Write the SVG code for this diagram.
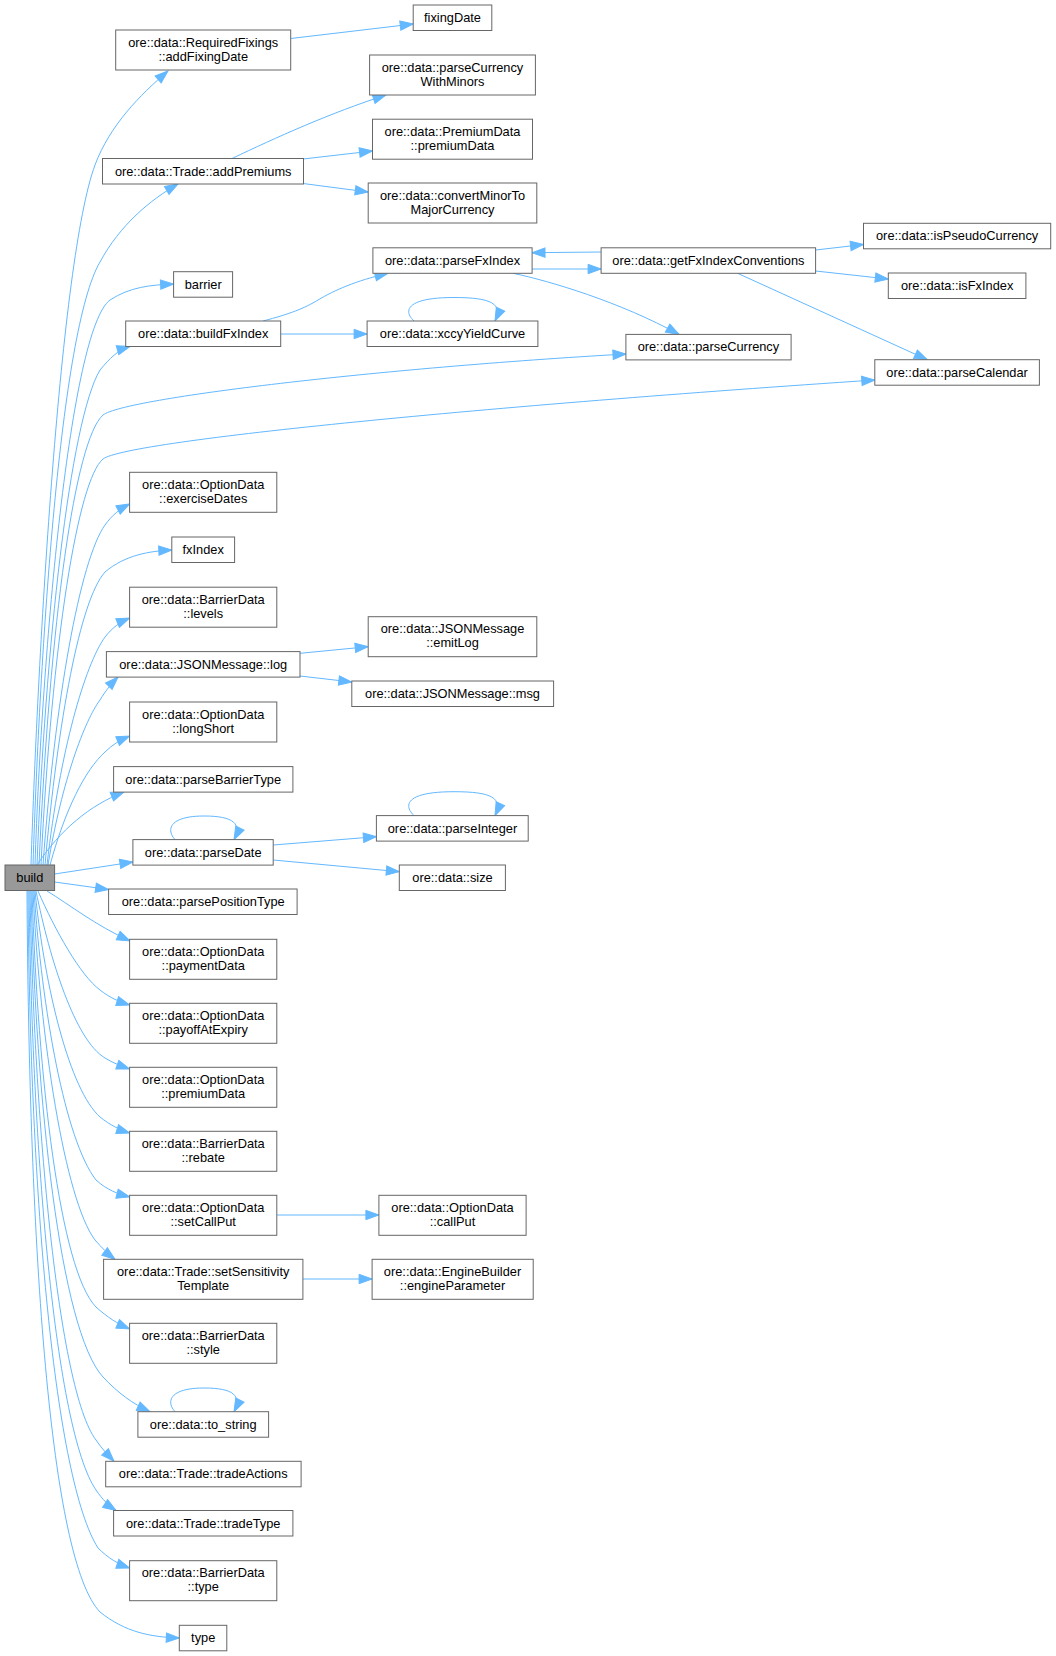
<svg xmlns="http://www.w3.org/2000/svg" width="1056" height="1656" viewBox="0 0 1056 1656">
<style>
.n rect{fill:#ffffff;stroke:#666666;stroke-width:1}
.n text{font-family:"Liberation Sans",Arial,sans-serif;font-size:12.8px;fill:#000000;text-anchor:middle}
#build rect{fill:#999999;stroke:#666666}
.e path{fill:none;stroke:#63b8ff;stroke-width:1;marker-end:url(#ah)}
</style>
<defs>
<marker id="ah" markerWidth="14" markerHeight="10" refX="13" refY="4.67" orient="auto" markerUnits="userSpaceOnUse" overflow="visible">
<path d="M0,0 L13,4.67 L0,9.33 z" fill="#63b8ff" stroke="#63b8ff" stroke-width="1"/>
</marker>
</defs>
<rect width="1056" height="1656" fill="#ffffff"/>
<g id="edges" class="e">
<path d="M31,865 C38,650 60,260 95,165 C110,125 140,95 168,71"/>
<path d="M33,865 C40,650 60,330 100,262 C120,225 150,200 178,184"/>
<path d="M35,865 C42,650 70,330 110,300 C130,287 150,285 173.6,284"/>
<path d="M37,865 C45,650 70,420 100,370 C110,358 118,350 130,346.5"/>
<path d="M39,865 C50,620 75,440 103,415 C125,398 380,368 626,354"/>
<path d="M41,865 C52,640 78,480 103,459 C128,440 500,405 874.8,380"/>
<path d="M43,865 C55,700 80,560 105,525 C112,515 120,509 129.6,504"/>
<path d="M45,865 C58,720 80,600 105,572 C125,555 150,551 171.8,550"/>
<path d="M47,865 C60,750 85,665 105,637 C112,628 120,622 129.6,618"/>
<path d="M48,865 C62,780 85,720 100,700 C106,690 112,683 118,677"/>
<path d="M50,865 C65,810 85,770 105,752 C112,745 120,740 129.6,736"/>
<path d="M37,865 C60,830 90,805 124,792"/>
<path d="M54.6,874 L132.9,862"/>
<path d="M54.6,882 L108.6,889.5"/>
<path d="M47,891 C70,905 95,925 130,941"/>
<path d="M38,891 C55,930 80,975 100,990 C110,998 120,1002 129.6,1005"/>
<path d="M36,891 C50,960 75,1040 105,1058 C113,1063 121,1066 129.6,1069"/>
<path d="M35,891 C45,990 70,1090 100,1117 C110,1125 120,1130 129.6,1133"/>
<path d="M34,891 C42,1010 65,1140 96,1180 C107,1190 118,1194 129.6,1197"/>
<path d="M33,891 C40,1040 65,1200 95,1240 C102,1248 108,1254 115,1259.3"/>
<path d="M32,891 C38,1080 60,1270 96,1307 C107,1317 118,1324 129.6,1329"/>
<path d="M31,891 C36,1100 60,1330 103,1377 C118,1393 133,1404 150,1411.7"/>
<path d="M30,891 C34,1120 58,1390 96,1440 C102,1449 108,1455 114,1461.3"/>
<path d="M29,891 C32,1150 55,1430 96,1490 C102,1499 109,1506 116,1510.5"/>
<path d="M28,891 C30,1200 55,1480 98,1548 C108,1558 118,1564 129.6,1568"/>
<path d="M27,891 C29,1250 50,1560 100,1612 C125,1632 150,1637 179.3,1638"/>
<path d="M290.7,38.5 L413.2,24"/>
<path d="M232,158.5 C275,138 330,113 386,95"/>
<path d="M303,159 L372.5,151"/>
<path d="M303,183.5 L368.2,192"/>
<path d="M263,321 C290,314 305,308 318,300 C335,290 355,281 388,273.3"/>
<path d="M280.7,334 L367.1,334"/>
<path d="M414,321 C403,311 406,297.5 454,297.5 C492,297.5 503,304 495,321"/>
<path d="M532,269 L601.1,269"/>
<path d="M601.1,252 L532,252.7"/>
<path d="M513,273.3 C550,281 620,302 679,334.4"/>
<path d="M815.6,250 L863.5,244.5"/>
<path d="M815.6,271 L888.3,279"/>
<path d="M737.6,273.3 L927.3,359.7"/>
<path d="M300,653.3 L368.2,646.7"/>
<path d="M300,676 L351.8,682"/>
<path d="M175,839.6 C166,830 169,816 204,816 C234,816 242,824 234,839.6"/>
<path d="M273.2,845 L376.4,836.7"/>
<path d="M273.2,860 L399.3,871.7"/>
<path d="M414,815.6 C403,805 406,791.7 454,791.7 C492,791.7 503,798 495,815.6"/>
<path d="M276.8,1215 L378.9,1215"/>
<path d="M302.9,1279 L372.1,1279"/>
<path d="M175,1411.7 C166,1402 169,1388 204,1388 C234,1388 242,1396 234,1411.7"/>
</g>
<g id="build" class="n"><rect x="5" y="865" width="49.6" height="25.5"/><text x="29.8" y="882">build</text></g>
<g id="addFixingDate" class="n"><rect x="115.7" y="30" width="175" height="40"/><text x="203.2" y="46.5">ore::data::RequiredFixings</text><text x="203.2" y="60.5">::addFixingDate</text></g>
<g id="addPremiums" class="n"><rect x="102.5" y="158.5" width="201" height="25.5"/><text x="203.2" y="175.5">ore::data::Trade::addPremiums</text></g>
<g id="barrier" class="n"><rect x="173.6" y="271.7" width="59" height="25.5"/><text x="203.2" y="288.7">barrier</text></g>
<g id="buildFxIndex" class="n"><rect x="125.7" y="321" width="155" height="25.5"/><text x="203.2" y="338">ore::data::buildFxIndex</text></g>
<g id="exerciseDates" class="n"><rect x="129.6" y="472.3" width="147.2" height="40"/><text x="203.2" y="488.8">ore::data::OptionData</text><text x="203.2" y="502.8">::exerciseDates</text></g>
<g id="fxIndex" class="n"><rect x="171.8" y="537" width="62.8" height="25.5"/><text x="203.2" y="554">fxIndex</text></g>
<g id="levels" class="n"><rect x="129.6" y="587.2" width="147.2" height="40"/><text x="203.2" y="603.7">ore::data::BarrierData</text><text x="203.2" y="617.7">::levels</text></g>
<g id="log" class="n"><rect x="106.4" y="651.6" width="193.6" height="25.5"/><text x="203.2" y="668.6">ore::data::JSONMessage::log</text></g>
<g id="longShort" class="n"><rect x="129.6" y="702" width="147.2" height="40"/><text x="203.2" y="718.5">ore::data::OptionData</text><text x="203.2" y="732.5">::longShort</text></g>
<g id="parseBarrierType" class="n"><rect x="113.6" y="766.6" width="179.3" height="25.5"/><text x="203.2" y="783.6">ore::data::parseBarrierType</text></g>
<g id="parseDate" class="n"><rect x="132.9" y="839.6" width="140.3" height="25.5"/><text x="203.2" y="856.6">ore::data::parseDate</text></g>
<g id="parsePositionType" class="n"><rect x="108.6" y="889" width="188.5" height="25.5"/><text x="203.2" y="906">ore::data::parsePositionType</text></g>
<g id="paymentData" class="n"><rect x="129.6" y="939.3" width="147.2" height="40"/><text x="203.2" y="955.8">ore::data::OptionData</text><text x="203.2" y="969.8">::paymentData</text></g>
<g id="payoffAtExpiry" class="n"><rect x="129.6" y="1003.3" width="147.2" height="40"/><text x="203.2" y="1019.8">ore::data::OptionData</text><text x="203.2" y="1033.8">::payoffAtExpiry</text></g>
<g id="optionPremiumData" class="n"><rect x="129.6" y="1067.3" width="147.2" height="40"/><text x="203.2" y="1083.8">ore::data::OptionData</text><text x="203.2" y="1097.8">::premiumData</text></g>
<g id="rebate" class="n"><rect x="129.6" y="1131.3" width="147.2" height="40"/><text x="203.2" y="1147.8">ore::data::BarrierData</text><text x="203.2" y="1161.8">::rebate</text></g>
<g id="setCallPut" class="n"><rect x="129.6" y="1195.3" width="147.2" height="40"/><text x="203.2" y="1211.8">ore::data::OptionData</text><text x="203.2" y="1225.8">::setCallPut</text></g>
<g id="setSensitivityTemplate" class="n"><rect x="103.6" y="1259.3" width="199.3" height="40"/><text x="203.2" y="1275.8">ore::data::Trade::setSensitivity</text><text x="203.2" y="1289.8">Template</text></g>
<g id="style" class="n"><rect x="129.6" y="1323.3" width="147.2" height="40"/><text x="203.2" y="1339.8">ore::data::BarrierData</text><text x="203.2" y="1353.8">::style</text></g>
<g id="to_string" class="n"><rect x="137.9" y="1411.7" width="130.7" height="25.5"/><text x="203.2" y="1428.7">ore::data::to_string</text></g>
<g id="tradeActions" class="n"><rect x="105.7" y="1461.3" width="195.4" height="25.5"/><text x="203.2" y="1478.3">ore::data::Trade::tradeActions</text></g>
<g id="tradeType" class="n"><rect x="113.6" y="1510.5" width="179.3" height="25.5"/><text x="203.2" y="1527.5">ore::data::Trade::tradeType</text></g>
<g id="barrierType" class="n"><rect x="129.6" y="1560.7" width="147.2" height="40"/><text x="203.2" y="1577.2">ore::data::BarrierData</text><text x="203.2" y="1591.2">::type</text></g>
<g id="type" class="n"><rect x="179.3" y="1625.3" width="47.5" height="25.5"/><text x="203.2" y="1642.3">type</text></g>
<g id="fixingDate" class="n"><rect x="413.2" y="5" width="78.6" height="25.5"/><text x="452.5" y="22">fixingDate</text></g>
<g id="parseCurrencyWithMinors" class="n"><rect x="369.6" y="55" width="165.8" height="40"/><text x="452.5" y="71.5">ore::data::parseCurrency</text><text x="452.5" y="85.5">WithMinors</text></g>
<g id="premiumDataPD" class="n"><rect x="372.5" y="119.2" width="160" height="40"/><text x="452.5" y="135.7">ore::data::PremiumData</text><text x="452.5" y="149.7">::premiumData</text></g>
<g id="convertMinorToMajorCurrency" class="n"><rect x="368.2" y="183" width="168.6" height="40"/><text x="452.5" y="199.5">ore::data::convertMinorTo</text><text x="452.5" y="213.5">MajorCurrency</text></g>
<g id="parseFxIndex" class="n"><rect x="372.9" y="247.8" width="159.2" height="25.5"/><text x="452.5" y="264.8">ore::data::parseFxIndex</text></g>
<g id="xccyYieldCurve" class="n"><rect x="367.1" y="321" width="170.8" height="25.5"/><text x="452.5" y="338">ore::data::xccyYieldCurve</text></g>
<g id="emitLog" class="n"><rect x="368.2" y="616.7" width="168.6" height="40"/><text x="452.5" y="633.2">ore::data::JSONMessage</text><text x="452.5" y="647.2">::emitLog</text></g>
<g id="msg" class="n"><rect x="351.8" y="681" width="201.8" height="25.5"/><text x="452.5" y="698">ore::data::JSONMessage::msg</text></g>
<g id="parseInteger" class="n"><rect x="376.4" y="815.6" width="151.8" height="25.5"/><text x="452.5" y="832.6">ore::data::parseInteger</text></g>
<g id="size" class="n"><rect x="399.3" y="865" width="106.1" height="25.5"/><text x="452.5" y="882">ore::data::size</text></g>
<g id="callPut" class="n"><rect x="378.9" y="1195.3" width="147.2" height="40"/><text x="452.5" y="1211.8">ore::data::OptionData</text><text x="452.5" y="1225.8">::callPut</text></g>
<g id="engineParameter" class="n"><rect x="372.1" y="1259.3" width="161.1" height="40"/><text x="452.5" y="1275.8">ore::data::EngineBuilder</text><text x="452.5" y="1289.8">::engineParameter</text></g>
<g id="getFxIndexConventions" class="n"><rect x="601.1" y="247.8" width="214.5" height="25.5"/><text x="708.4" y="264.8">ore::data::getFxIndexConventions</text></g>
<g id="parseCurrency" class="n"><rect x="625.9" y="334.4" width="165.2" height="25.5"/><text x="708.4" y="351.4">ore::data::parseCurrency</text></g>
<g id="isPseudoCurrency" class="n"><rect x="863.5" y="223.3" width="187.2" height="25.5"/><text x="957.1" y="240.3">ore::data::isPseudoCurrency</text></g>
<g id="isFxIndex" class="n"><rect x="888.3" y="273" width="137.6" height="25.5"/><text x="957.1" y="290">ore::data::isFxIndex</text></g>
<g id="parseCalendar" class="n"><rect x="874.8" y="359.7" width="164.6" height="25.5"/><text x="957.1" y="376.7">ore::data::parseCalendar</text></g>
</svg>
